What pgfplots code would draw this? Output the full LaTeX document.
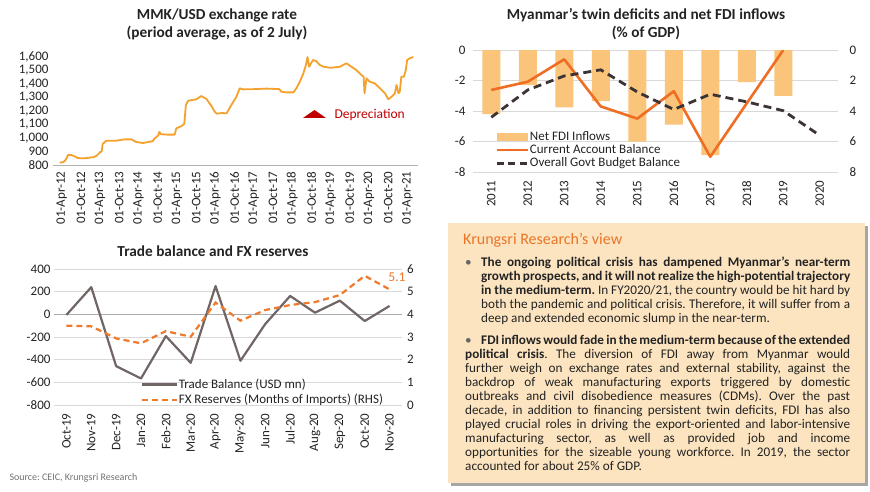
\documentclass[border=0pt]{standalone}
\usepackage{pgfplots}
\pgfplotsset{compat=1.18}
\usepackage{fontspec}
\setmainfont{Carlito}
\definecolor{xrate}{RGB}{244,162,45}
\definecolor{fdi}{RGB}{250,196,122}
\definecolor{cab}{RGB}{240,110,35}
\definecolor{gov}{RGB}{60,52,52}
\definecolor{trade}{RGB}{112,102,102}
\definecolor{fxr}{RGB}{237,122,45}
\definecolor{boxfill}{RGB}{252,228,192}
\definecolor{titleor}{RGB}{232,118,40}
\definecolor{depr}{RGB}{192,0,0}
\definecolor{txt}{RGB}{35,35,35}
\definecolor{gridc}{RGB}{217,217,217}
\pgfplotsset{
  every axis/.append style={
    scale only axis,
    font=\fontsize{13}{15}\selectfont,
    /pgf/number format/assume math mode=true,
    tick label style={text=txt},
    major tick length=0pt,
    legend cell align=left,
  },
}
\frenchspacing
\begin{document}
\begin{tikzpicture}[x=1pt,y=1pt]
\useasboundingbox (0,0) rectangle (870,491);
\fill[white] (0,0) rectangle (870,491);

% ---------- titles ----------
\node[align=center, font=\fontsize{15.3}{18}\selectfont\bfseries, text=txt] at (217,467) {MMK/USD exchange rate\\(period average, as of 2 July)};
\node[align=center, font=\fontsize{15.3}{18}\selectfont\bfseries, text=txt] at (646,467) {Myanmar’s twin deficits and net FDI inflows\\(\% of GDP)};
\node[font=\fontsize{15.3}{18}\selectfont\bfseries, text=txt] at (213,240.3) {Trade balance and FX reserves};
\node[anchor=west, font=\fontsize{10}{12}\selectfont, text=black!55] at (6,13) {Source: CEIC, Krungsri Research};

% ---------- panel 1: exchange rate ----------
\begin{axis}[
  at={(53pt,326pt)}, anchor=south west, width=365pt, height=108pt,
  xmin=-2.7, xmax=111.3, ymin=800, ymax=1600,
  axis x line*=bottom, axis y line*=left,
  axis line style={-},
  x axis line style={draw=gray!60, line width=0.8pt},
  y axis line style={draw=none},
  xtick={0,6,...,108},
  xticklabels={01-Apr-12,01-Oct-12,01-Apr-13,01-Oct-13,01-Apr-14,01-Oct-14,01-Apr-15,01-Oct-15,01-Apr-16,01-Oct-16,01-Apr-17,01-Oct-17,01-Apr-18,01-Oct-18,01-Apr-19,01-Oct-19,01-Apr-20,01-Oct-20,01-Apr-21},
  xticklabel style={yshift=-3pt, rotate=90, anchor=east},
  ytick={800,900,...,1600},
  yticklabel style={/pgf/number format/1000 sep={,}, xshift=-1pt},
  clip=false,
]
\addplot[xrate, line width=1.8pt, line join=round] coordinates {
(-0.6,817) (0.5,822) (1,830) (1.5,850) (2,875) (3,874) (4,865) (5,852) (6.7,849) (8.2,853) (10,858) (11,870) (12,895) (12.5,900) (12.8,955) (13.9,980) (17,980) (19.7,990) (21.8,990) (23.3,970) (25.4,963) (27.5,972) (28.5,978) (29,995) (30.2,1020) (30.5,1045) (31,1028) (33,1025) (35.3,1025) (35.8,1071) (37.4,1088) (38.3,1105) (38.8,1244) (39.5,1276) (42.1,1287) (43.6,1311) (45.2,1290) (46.1,1260) (46.8,1237) (47.8,1195) (48.5,1180) (50,1185) (51.5,1183) (53,1244) (54.6,1306) (55.6,1368) (56.6,1360) (60,1362) (64,1366) (68,1362) (68.6,1343) (70,1338) (72.4,1338) (73.3,1368) (74.4,1417) (75.5,1479) (76.3,1541) (76.8,1600) (77.3,1528) (78.5,1578) (79.5,1570) (80.6,1541) (81.7,1528) (84,1520) (87,1528) (87.9,1541) (89,1553) (90.5,1528) (92,1504) (93.6,1467) (94.3,1455) (94.6,1331) (95.2,1442) (96.2,1417) (97.8,1405) (99.4,1368) (101,1331) (102,1287) (103.1,1306) (104.1,1331) (104.6,1393) (105.2,1331) (105.6,1343) (106.1,1454) (106.9,1454) (107.5,1504) (107.9,1578) (108.7,1590) (109.8,1600)
};
\end{axis}
% depreciation annotation
\fill[depr] (303,373) -- (326,373) -- (314.5,381) -- cycle;
\node[anchor=west, font=\fontsize{13.5}{15}\selectfont, text=depr] at (331,376) {Depreciation};

% ---------- panel 2: twin deficits ----------
\begin{axis}[
  at={(473pt,319pt)}, anchor=south west, width=365pt, height=122pt,
  xmin=-0.5, xmax=9.5, ymin=-8, ymax=0,
  axis line style={draw=none},
  ymajorgrids, grid style={gridc, line width=0.8pt},
  xtick={0,...,9}, xticklabels={2011,2012,2013,2014,2015,2016,2017,2018,2019,2020},
  xticklabel style={yshift=-5pt, rotate=90, anchor=east},
  ytick={-8,-6,...,0},
  yticklabel style={xshift=-4pt},
  legend image code/.code={\draw[#1] (0pt,0pt) -- (31pt,0pt);},
  legend style={draw=none, fill=none, at={(0.052,0.355)}, anchor=north west,
    font=\fontsize{13}{14}\selectfont, text=txt, row sep=0.5pt,
    nodes={inner sep=1pt}},
  /tikz/every even column/.append style={column sep=3pt},
]
\addplot[ybar, bar width=18pt, fill=fdi, draw=none,
  legend image code/.code={\fill[fdi] (0pt,-4pt) rectangle (31pt,4pt);}]
  coordinates {(0,-4.2) (1,-2.3) (2,-3.77) (3,-3.35) (4,-6.0) (5,-4.9) (6,-6.9) (7,-2.1) (8,-3.0)};
\addlegendentry{Net FDI Inflows}
\addplot[cab, line width=2.6pt, line join=round]
  coordinates {(0,-2.62) (1,-2.08) (2,-0.61) (3,-3.7) (4,-4.5) (5,-2.7) (6,-7.0) (7,-3.5) (8,0)};
\addlegendentry{Current Account Balance}
\addlegendimage{gov, line width=2.8pt, dash pattern=on 7pt off 4.5pt}
\addlegendentry{Overall Govt Budget Balance}
\end{axis}
\begin{axis}[
  at={(473pt,319pt)}, anchor=south west, width=365pt, height=122pt,
  xmin=-0.5, xmax=9.5, ymin=0, ymax=8, y dir=reverse,
  axis x line=none, axis y line*=right, axis line style={-}, y axis line style={draw=none},
  ytick={0,2,...,8}, yticklabel style={xshift=8pt},
]
\addplot[gov, line width=2.8pt, dash pattern=on 8pt off 5pt]
  coordinates {(0,4.41) (1,2.62) (2,1.7) (3,1.3) (4,2.75) (5,3.9) (6,2.9) (7,3.4) (8,3.98) (9,5.6)};
\end{axis}

% ---------- panel 3: trade balance and FX reserves ----------
\begin{axis}[
  at={(54pt,86pt)}, anchor=south west, width=348pt, height=136pt,
  xmin=-0.5, xmax=13.5, ymin=-800, ymax=400,
  axis line style={draw=none},
  ymajorgrids, grid style={gridc, line width=0.8pt},
  extra y ticks={0}, extra y tick labels={}, extra y tick style={grid style={gray!65, line width=0.8pt}},
  xtick={0,...,13},
  xticklabels={Oct-19,Nov-19,Dec-19,Jan-20,Feb-20,Mar-20,Apr-20,May-20,Jun-20,Jul-20,Aug-20,Sep-20,Oct-20,Nov-20},
  xticklabel style={yshift=-5pt, rotate=90, anchor=east},
  ytick={-800,-600,...,400},
]
\addplot[trade, line width=2.2pt, line join=round]
  coordinates {(0,-5) (1,240) (2,-457) (3,-566) (4,-192) (5,-428) (6,250) (7,-410) (8,-85) (9,162) (10,15) (11,121) (12,-59) (13,74)};
\end{axis}
\begin{axis}[
  at={(54pt,86pt)}, anchor=south west, width=348pt, height=136pt,
  xmin=-0.5, xmax=13.5, ymin=0, ymax=6,
  axis x line=none, axis y line*=right, axis line style={-}, y axis line style={draw=none},
  ytick={0,...,6}, yticklabel style={xshift=1.5pt},
  legend image code/.code={\draw[#1] (0pt,0pt) -- (35pt,0pt);},
  legend style={draw=none, fill=none, at={(0.24,0.215)}, anchor=north west,
    font=\fontsize{13}{14}\selectfont, text=txt, row sep=2.5pt,
    nodes={inner sep=1pt}},
  /tikz/every even column/.append style={column sep=2pt},
  clip=false,
]
\addlegendimage{trade, line width=2.2pt}
\addlegendentry{Trade Balance (USD mn)}
\addplot[fxr, line width=2.2pt, dash pattern=on 6pt off 4pt]
  coordinates {(0,3.5) (1,3.47) (2,2.94) (3,2.72) (4,3.26) (5,3.01) (6,4.52) (7,3.72) (8,4.19) (9,4.41) (10,4.54) (11,4.85) (12,5.7) (13,5.1)};
\addlegendentry{FX Reserves (Months of Imports) (RHS)}
\node[text=fxr, font=\fontsize{13.5}{15}\selectfont] at (axis cs:13.3,5.62) {5.1};
\end{axis}

% ---------- text box ----------
\fill[black!35] (451,5) rectangle (868,265);
\fill[boxfill] (448,8) rectangle (865,268);
\node[anchor=west, font=\fontsize{16}{18}\selectfont, text=titleor, inner sep=0pt] at (463,250.3) {Krungsri Research’s view};
\node[anchor=north west, inner sep=0pt, text width=385pt, align=justify, text=txt,
  font=\fontsize{13.2}{13.95}\selectfont] at (465,234.5) {%
\frenchspacing\spaceskip=0.23em plus 0.6em minus 0.14em\hyphenpenalty=10000\exhyphenpenalty=10000
\hangindent=16pt\hangafter=1\noindent\makebox[16pt][l]{\textcolor{black!60}{\textbullet}}%
\textbf{The ongoing political crisis has dampened Myanmar’s near-term\linebreak growth prospects, and it will not realize the high-potential trajectory\linebreak in the medium-term.} In FY2020/21, the country would be hit hard by\linebreak both the pandemic and political crisis. Therefore, it will suffer from a\linebreak deep and extended economic slump in the near-term.\par
\vspace{8.5pt}
\hangindent=16pt\hangafter=1\noindent\makebox[16pt][l]{\textcolor{black!60}{\textbullet}}%
\textbf{FDI inflows would fade in the medium-term because of the extended\linebreak political crisis}. The diversion of FDI away from Myanmar would\linebreak further weigh on exchange rates and external stability, against the\linebreak backdrop of weak manufacturing exports triggered by domestic\linebreak outbreaks and civil disobedience measures (CDMs). Over the past\linebreak decade, in addition to financing persistent twin deficits, FDI has also\linebreak played crucial roles in driving the export-oriented and labor-intensive\linebreak manufacturing sector, as well as provided job and income\linebreak opportunities for the sizeable young workforce. In 2019, the sector\linebreak accounted for about 25\% of GDP.};
\end{tikzpicture}
\end{document}
